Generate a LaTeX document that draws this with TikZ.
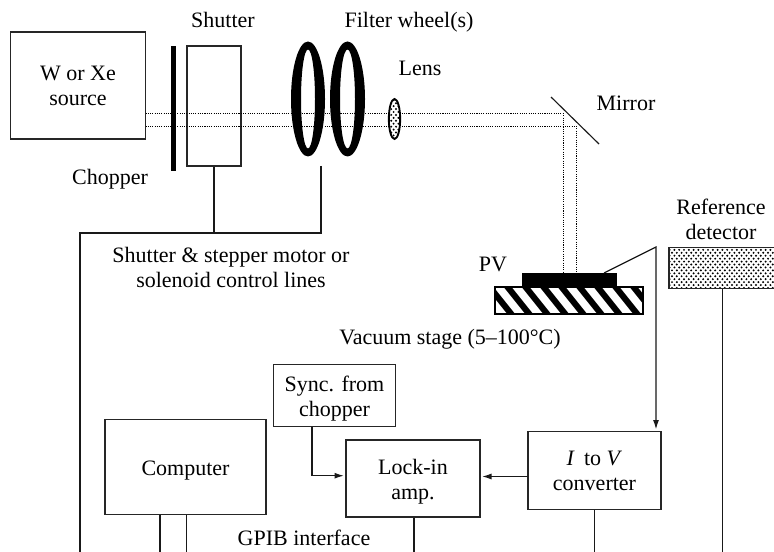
\documentclass[tikz,border=0pt]{standalone}
\usepackage{fontspec}
\setmainfont{Liberation Serif}
\usetikzlibrary{arrows.meta,positioning,shapes.geometric,patterns}
\pgfdeclarepatternformonly{pvdots}{\pgfqpoint{-1pt}{-1pt}}{\pgfqpoint{3.2pt}{3.2pt}}{\pgfqpoint{3.6pt}{4.4pt}}{%
  \pgfpathcircle{\pgfqpoint{0pt}{0pt}}{0.82pt}
  \pgfpathcircle{\pgfqpoint{1.8pt}{2.2pt}}{0.82pt}
  \pgfusepath{fill}
}
\newcommand{\droptxt}{\rule{0pt}{16pt}}
\tikzset{
  box/.style={draw=black!85, line width=0.85pt, inner sep=0pt, align=center, font=\fontsize{16.5}{18.75}\selectfont},
  lbl/.style={inner sep=0pt, anchor=base, align=center, font=\fontsize{16.5}{18.75}\selectfont},
  wheel/.style={fill=black, even odd rule},
  dotfill/.style={preaction={fill=white}, pattern=pvdots},
  beam/.style={dash pattern=on 0.8pt off 0.9pt, line width=0.6pt, draw=black},
  wire/.style={line width=0.85pt, draw=black!90},
  flow/.style={-{Latex[length=7pt,width=4.5pt]}, line width=0.85pt, draw=black!90, shorten >=1.2pt}
}

\begin{document}
\begin{tikzpicture}[x=0.75pt,y=-0.75pt]
  \useasboundingbox (0,0) rectangle (774,552);

  % light path
  \coordinate (beamstarta) at (145.5,113);
  \coordinate (beamstartb) at (145.5,126);
  \coordinate (beamturna) at (563,113);
  \coordinate (beamturnb) at (576,126);
  \node[box, minimum width=101.25pt, minimum height=80.25pt] (source) at (78,85.5) {W or Xe\\source};
  \node[box, minimum width=40.5pt, minimum height=90pt] (shutter) at (214,106) {};
  \draw[beam] (beamstarta) -- (beamturna);
  \draw[beam] (beamstartb) -- (beamturnb);

  \node[fill=black, inner sep=0pt, minimum width=3.9pt, minimum height=93.75pt] (chopper) at (173.5,108.5) {};
  \coordinate (wheela) at (308,99);
  \coordinate (wheelb) at (347.5,99);
  \fill[wheel] (wheela) ellipse [x radius=17,y radius=57.5] (wheela) ellipse [x radius=7,y radius=49.5];
  \fill[wheel] (wheelb) ellipse [x radius=17.5,y radius=57.5] (wheelb) ellipse [x radius=7.5,y radius=49.5];
  \node[draw=black, line width=1.4pt, ellipse, dotfill, inner sep=0pt, minimum width=8.5pt, minimum height=30pt] (lens) at (394.5,119) {};
  \coordinate (mirrora) at (551,97);
  \coordinate (mirrorb) at (599,144);
  \draw[wire] (mirrora) -- (mirrorb);

  % sample on its stage
  \node[box, fill=white, minimum width=111pt, minimum height=20.25pt] (stage) at (569,300.5) {};
  \begin{scope}
    \clip (495,287) rectangle (643,314);
    \foreach \xs in {466,484,...,646}
      \draw[line width=4.6pt] (\xs,280) -- (\xs+32,320);
  \end{scope}
  \draw[line width=1pt] (495,287) rectangle (643,314);
  \node[fill=black, inner sep=0pt, minimum width=71.5pt, minimum height=10.5pt] (pv) at (569.5,280) {};
  \draw[beam] (beamturna) -- (beamturna |- pv.north);
  \draw[beam] (beamturnb) -- (beamturnb |- pv.north);

  % detector and electronics
  \node[box, dotfill, line width=1.1pt, minimum width=82.5pt, minimum height=30.5pt] (refdet) at (724,268) {};
  \node[box, minimum width=91pt, minimum height=47pt] (sync) at (334.5,395.5) {\droptxt Sync. from\\chopper};
  \node[box, minimum width=120.75pt, minimum height=70.75pt] (computer) at (185.5,467) {\droptxt Computer};
  \node[box, minimum width=100.5pt, minimum height=57.75pt] (lockin) at (413,478.5) {\droptxt Lock-in\\amp.};
  \node[box, minimum width=99.75pt, minimum height=58.5pt] (ivconv) at (594.5,470.5) {\textit{I}\, to \textit{V}\\converter};

  % control lines
  \coordinate (wheeltap) at (321,166);
  \coordinate (linecorner) at (80,233);
  \coordinate (lineend) at (80,554);
  \draw[wire] (wheeltap) -- (wheeltap |- linecorner) -- (linecorner) -- (lineend);
  \draw[wire] (shutter.south) -- (shutter.south |- linecorner);

  % signal lines
  \coordinate (pvtap) at (604,273);
  \coordinate (pvbend) at (656,247);
  \draw[flow] (pvtap) -- (pvbend) -- (pvbend |- ivconv.north);
  \coordinate (synctap) at (312,426.7);
  \coordinate (synclevel) at (312,475.7);
  \draw[flow] (synctap) -- (synclevel) -- (synclevel -| lockin.west);
  \coordinate (ivlevel) at (528,476.5);
  \draw[flow] (ivlevel) -- (ivlevel -| lockin.east);
  \coordinate (compa) at (160,554);
  \coordinate (compb) at (186.5,554);
  \draw[wire] (compa |- computer.south) -- (compa);
  \draw[wire] (compb |- computer.south) -- (compb);
  \coordinate (lockend) at (414,554);
  \draw[wire] (lockend |- lockin.south) -- (lockend);
  \coordinate (ivend) at (594.5,554);
  \draw[wire] (ivconv.south) -- (ivend);
  \coordinate (refend) at (722.5,554);
  \draw[wire] (refend |- refdet.south) -- (refend);

  % labels
  \node[lbl] (shutterlbl) at (223,28) {Shutter};
  \node[lbl] (wheellbl) at (409,28) {Filter wheel(s)};
  \node[lbl] (lenslbl) at (420,76) {Lens};
  \node[lbl] (mirrorlbl) at (626,111) {Mirror};
  \node[lbl] (chopperlbl) at (110,185) {Chopper};
  \node[lbl] (controllbl) at (231,287) {Shutter \& stepper motor or\\solenoid control lines};
  \node[lbl] (reflbl) at (721,240) {Reference\\detector};
  \node[lbl] (pvlbl) at (493,272) {PV};
  \node[lbl] (stagelbl) at (450,344) {Vacuum stage (5--100°C)};
  \node[lbl] (gpiblbl) at (304,545.5) {GPIB interface};
\end{tikzpicture}
\end{document}
